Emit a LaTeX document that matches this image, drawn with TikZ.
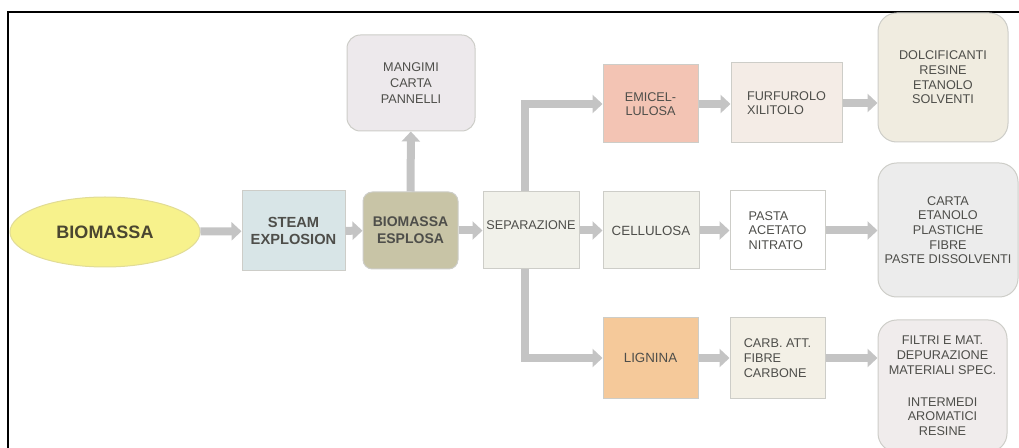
\documentclass[tikz,border=0pt]{standalone}
\usepackage{fontspec}
\setmainfont{Liberation Sans}
\usetikzlibrary{shapes.geometric,arrows.meta}
\tikzset{every picture/.style={line width=0.75pt}}

\definecolor{arrowgray}{RGB}{196,196,196}
\definecolor{boxline}{RGB}{205,205,200}
\definecolor{txtgray}{RGB}{78,78,74}
\definecolor{bioyellow}{RGB}{247,242,140}
\definecolor{steamblue}{RGB}{216,229,231}
\definecolor{esplolive}{RGB}{200,196,166}
\definecolor{mangpink}{RGB}{237,233,236}
\definecolor{sepbeige}{RGB}{241,241,234}
\definecolor{emisalmon}{RGB}{243,196,180}
\definecolor{ligorange}{RGB}{245,201,154}
\definecolor{furfpink}{RGB}{244,236,230}
\definecolor{carbbeige}{RGB}{243,240,230}
\definecolor{dolcbeige}{RGB}{240,236,224}
\definecolor{cartagray}{RGB}{236,236,236}
\definecolor{filtrigray}{RGB}{240,236,236}

\tikzset{
  stepbox/.style={draw=boxline, inner sep=2pt, align=center, text=txtgray,
    font=\fontsize{9.5}{11}\selectfont},
  endbox/.style={stepbox, rounded corners=14pt},
  flow/.style={draw=arrowgray, line width=6pt, -{Triangle[width=13.5pt,length=7.5pt]}},
}

\begin{document}
\begin{tikzpicture}[x=0.75pt,y=0.75pt,yscale=-1,xscale=1]
\useasboundingbox (0,0) rectangle (1019,448);

%Frame
\draw [line width=1.5pt] (8,448) -- (8,12) -- (1019,12) ;

%Shape: Ellipse
\node [ellipse, draw={rgb,255:red,225;green,220;blue,150}, fill=bioyellow, minimum width=142.5pt, minimum height=52.5pt, text={rgb,255:red,74;green,70;blue,48}, font=\bfseries\fontsize{13.5}{15}\selectfont] (bio) at (105,232) {BIOMASSA};
%Shape: Rectangle
\node [stepbox, fill=steamblue, minimum width=77.25pt, minimum height=60pt, font=\bfseries\fontsize{11}{12.5}\selectfont] (steam) at (293.5,231) {STEAM\\EXPLOSION};
%Shape: Rounded Rect
\node [stepbox, fill=esplolive, rounded corners=7pt, minimum width=71.25pt, minimum height=57.75pt, font=\bfseries\fontsize{10.5}{12.5}\selectfont] (espl) at (410.5,230.5) {BIOMASSA\\ESPLOSA};
%Shape: Rounded Rect
\node [endbox, fill=mangpink, rounded corners=10pt, minimum width=96pt, minimum height=72pt, font=\fontsize{9.5}{12}\selectfont] (mang) at (411,83) {MANGIMI\\CARTA\\PANNELLI};
%Shape: Rectangle
\node [stepbox, fill=sepbeige, minimum width=72pt, minimum height=57.75pt, text depth=8pt] (sep) at (531,230.5) {SEPARAZIONE};

%Shape: Rectangle
\node [stepbox, fill=emisalmon, minimum width=71.25pt, minimum height=58.5pt] (emi) at (650.5,104) {EMICEL-\\LULOSA};
%Shape: Rectangle
\node [stepbox, fill=sepbeige, minimum width=72pt, minimum height=57.75pt, font=\fontsize{10}{11}\selectfont] (cell) at (651,230.5) {CELLULOSA};
%Shape: Rectangle
\node [stepbox, fill=ligorange, minimum width=71.25pt, minimum height=60pt, font=\fontsize{10}{11}\selectfont] (lig) at (650.5,358) {LIGNINA};

%Shape: Rectangle
\node [stepbox, fill=furfpink, align=left, minimum width=83.25pt, minimum height=60pt] (furf) at (786.5,103) {FURFUROLO\\XILITOLO};
%Shape: Rectangle
\node [stepbox, fill=white, align=left, minimum width=71.25pt, minimum height=59.25pt] (pasta) at (777.5,230.5) {PASTA\\ACETATO\\NITRATO};
%Shape: Rectangle
\node [stepbox, fill=carbbeige, align=left, minimum width=71.25pt, minimum height=60pt] (carb) at (777.5,358) {CARB. ATT.\\FIBRE\\CARBONE};

%Shape: Rounded Rect
\node [endbox, fill=dolcbeige, minimum width=97.5pt, minimum height=96.75pt] (dolc) at (943,77.5) {DOLCIFICANTI\\RESINE\\ETANOLO\\SOLVENTI};
%Shape: Rounded Rect
\node [endbox, fill=cartagray, minimum width=105pt, minimum height=100.5pt] (carta) at (948,230) {CARTA\\ETANOLO\\PLASTICHE\\FIBRE\\PASTE DISSOLVENTI};
%Shape: Rounded Rect
\node [endbox, fill=filtrigray, minimum width=96.75pt, minimum height=99pt] (filtri) at (942.5,386) {FILTRI E MAT.\\DEPURAZIONE\\MATERIALI SPEC.\\[13pt]INTERMEDI\\AROMATICI\\RESINE};

%Block Arrows
\draw [flow] (bio) -- (steam) ;
\draw [flow] (steam) -- (espl) ;
\draw [flow] (espl) -- (mang) ;
\draw [flow] (espl) -- (sep) ;
\draw [flow] (sep) -- (cell) ;
\draw [flow] ([xshift=-4.5pt]sep.north) |- (emi.west) ;
\draw [flow] ([xshift=-4.5pt]sep.south) |- (lig.west) ;
\draw [flow] (emi) -- (emi -| furf.west) ;
\draw [flow] (cell) -- (pasta) ;
\draw [flow] (lig) -- (carb) ;
\draw [flow] (furf.east) -- (furf.east -| dolc.west) ;
\draw [flow] (pasta) -- (pasta -| carta.west) ;
\draw [flow] (carb) -- (carb -| filtri.west) ;
\end{tikzpicture}
\end{document}
